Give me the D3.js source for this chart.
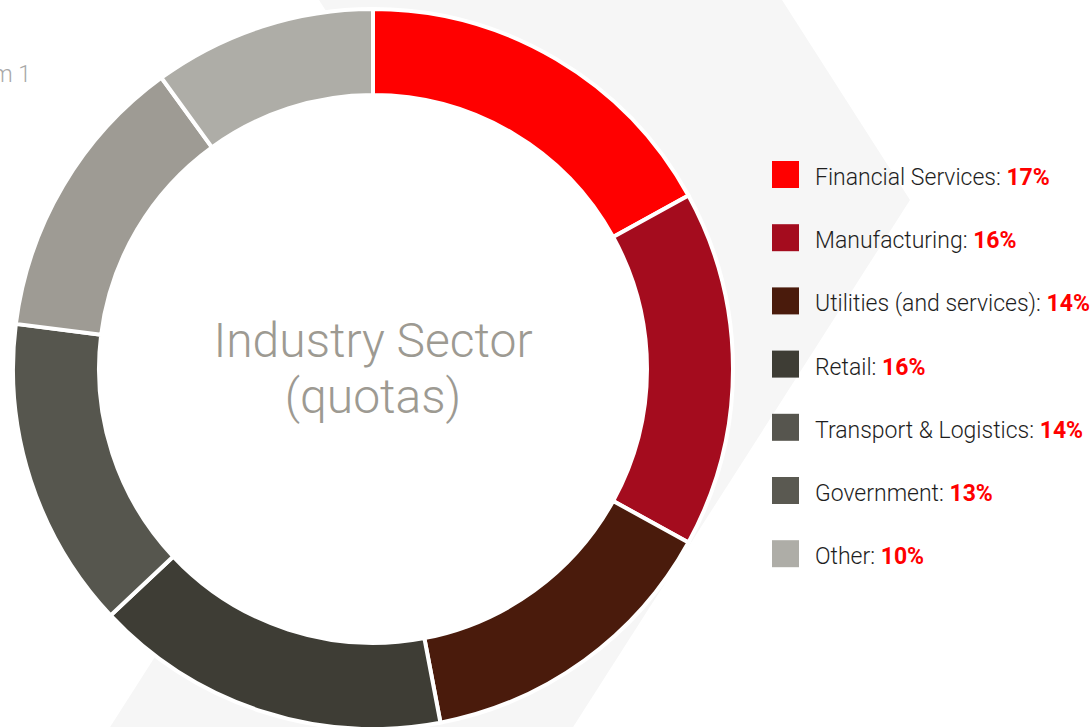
<!DOCTYPE html>
<html>
<head>
<meta charset="utf-8">
<script src="https://cdn.jsdelivr.net/npm/d3@7"></script>
<style>
  html, body { margin: 0; padding: 0; background: #ffffff; }
  svg { display: block; }
</style>
</head>
<body>
<svg id="chart" width="1092" height="727"></svg>
<script>
// ---- data ----
const categories = ["Financial Services", "Manufacturing", "Utilities (and services)", "Retail", "Transport & Logistics", "Government", "Other"];
const values = [17, 16, 14, 16, 14, 13, 10];
const sliceColors = ["#ff0000", "#a40c1e", "#4a1b0c", "#3e3d35", "#56564e", "#9e9b94", "#aeada7"];
const legendColors = ["#ff0000", "#a40c1e", "#4a1b0c", "#3e3d35", "#56554e", "#5a5951", "#aeada7"];
const titleLines = ["Industry Sector", "(quotas)"];
const captionText = "Diagram 1";

// ---- layout ----
const W = 1092, H = 727;
const cx = 373, cy = 369, R = 360, r = 274;
const svg = d3.select("#chart");

// background chevron
svg.append("polygon")
  .attr("points", [[319,0],[782,0],[910,200],[552,760],[89,760],[447,200]].map(p => p.join(",")).join(" "))
  .attr("fill", "#f6f6f6");

// caption (cut off at the left edge)
svg.append("text")
  .attr("x", 31).attr("y", 82)
  .attr("text-anchor", "end")
  .attr("font-family", "Roboto, 'Open Sans', sans-serif")
  .attr("font-weight", 300)
  .attr("font-size", 23)
  .attr("fill", "#a8a8a8")
  .text(captionText);

// donut
const g = svg.append("g").attr("transform", `translate(${cx},${cy})`);
const pie = d3.pie().sort(null).value(d => d).startAngle(0).endAngle(2 * Math.PI);
const arc = d3.arc().innerRadius(r).outerRadius(R);
g.append("circle").attr("r", r).attr("fill", "#ffffff");
g.selectAll("path.slice")
  .data(pie(values))
  .join("path")
  .attr("class", "slice")
  .attr("d", arc)
  .attr("fill", (d, i) => sliceColors[i])
  .attr("stroke", "#ffffff")
  .attr("stroke-width", 4)
  .attr("stroke-linejoin", "miter");

// centre title
g.selectAll("text.title")
  .data(titleLines)
  .join("text")
  .attr("class", "title")
  .attr("x", 0)
  .attr("y", (d, i) => -12 + i * 56)
  .attr("text-anchor", "middle")
  .attr("font-family", "Roboto, 'Open Sans', sans-serif")
  .attr("font-weight", 300)
  .attr("font-size", 48)
  .attr("fill", "#9d9a92")
  .text(d => d);

// legend
const ly = d3.scaleBand().domain(categories).range([161, 161 + 63.2 * categories.length]);
const leg = svg.append("g");
const rows = leg.selectAll("g.row")
  .data(categories)
  .join("g")
  .attr("class", "row")
  .attr("transform", d => `translate(772,${ly(d)})`);
rows.append("rect")
  .attr("width", 27).attr("height", 27)
  .attr("fill", (d, i) => legendColors[i]);
const txt = rows.append("text")
  .attr("x", 43).attr("y", 24)
  .attr("font-family", "Roboto, 'Open Sans', sans-serif")
  .attr("font-size", 23)
  .attr("fill", "#1e1e1e");
txt.append("tspan").attr("font-weight", 300).text(d => d + ": ");
txt.append("tspan")
  .attr("font-weight", 700)
  .attr("fill", "#ff0000")
  .text((d, i) => values[i] + "%");
</script>
</body>
</html>
